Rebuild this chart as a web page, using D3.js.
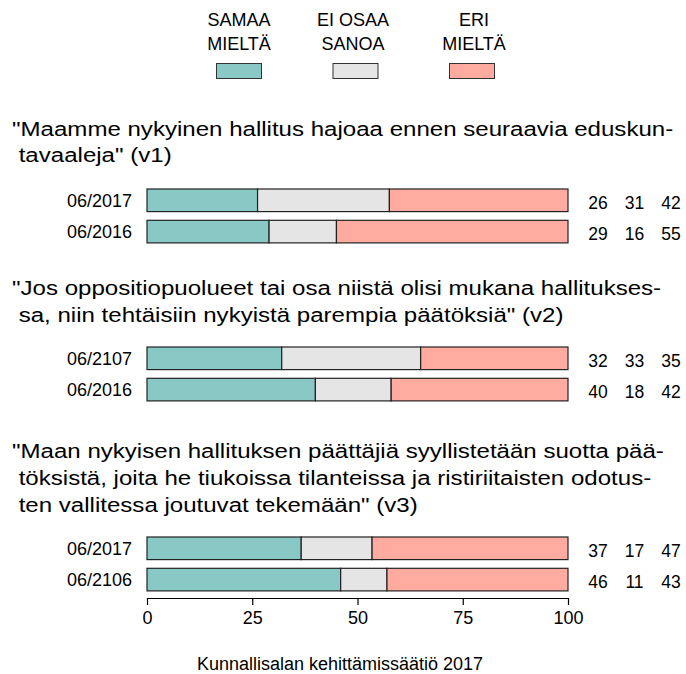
<!DOCTYPE html>
<html><head><meta charset="utf-8">
<script src="https://cdn.jsdelivr.net/npm/d3@7"></script>
<style>body{margin:0;background:#fff}text{font-family:"Liberation Sans",Arial,sans-serif;fill:#000}</style>
</head><body>
<svg id="c" width="686" height="674"></svg>
<script>
const categories = ["SAMAA MIELTÄ", "EI OSAA SANOA", "ERI MIELTÄ"];
const legendLines = [["SAMAA","MIELTÄ"],["EI OSAA","SANOA"],["ERI","MIELTÄ"]];
const colors = ["#88C9C5", "#E5E5E5", "#FFAB9F"];
const questions = [
  ["\"Maamme nykyinen hallitus hajoaa ennen seuraavia eduskun-", " tavaaleja\" (v1)"],
  ["\"Jos oppositiopuolueet tai osa niistä olisi mukana hallitukses-", " sa, niin tehtäisiin nykyistä parempia päätöksiä\" (v2)"],
  ["\"Maan nykyisen hallituksen päättäjiä syyllistetään suotta pää-", " töksistä, joita he tiukoissa tilanteissa ja ristiriitaisten odotus-", " ten vallitessa joutuvat tekemään\" (v3)"]
];
const rowLabels = [["06/2017","06/2016"],["06/2107","06/2016"],["06/2017","06/2106"]];
const values = [
  [[26,31,42],[29,16,55]],
  [[32,33,35],[40,18,42]],
  [[37,17,47],[46,11,43]]
];
const ticks = [0,25,50,75,100];
const footer = "Kunnallisalan kehittämissäätiö 2017";

const svg = d3.select("#c");
const x = d3.scaleLinear().domain([0,100]).range([147,568]);

// legend
const lx = d3.scalePoint().domain(categories).range([239,472]);
const ltx = [239, 353, 474];
categories.forEach((c,i)=>{
  const g = svg.append("g");
  legendLines[i].forEach((t,j)=>{
    g.append("text").attr("x",ltx[i]).attr("y",26+j*24).attr("text-anchor","middle").attr("font-size",18).text(t);
  });
  g.append("rect").attr("x",lx(c)-22.5).attr("y",63.5).attr("width",45).attr("height",15)
    .attr("fill",colors[i]).attr("stroke","#333").attr("stroke-width",1);
});

const titleBase = [135.5, 295, 458];
const barTop = [189, 347, 537];
const sx = 1.146;
questions.forEach((lines,q)=>{
  lines.forEach((t,j)=>{
    svg.append("text").attr("transform",`translate(12,${titleBase[q]+j*26.8}) scale(${sx},1)`)
      .attr("font-size",21).attr("xml:space","preserve").style("white-space","pre").text(t);
  });
  values[q].forEach((row,r)=>{
    const y0 = barTop[q] + r*31.3;
    const sum = d3.sum(row);
    let cum = 0;
    const segs = row.map(v=>{const s={a:cum,b:cum+v/sum*100}; cum=s.b; return s;});
    svg.append("text").attr("x",132).attr("y",y0+11.5).attr("dy","0.35em").attr("text-anchor","end").attr("font-size",18).text(rowLabels[q][r]);
    segs.forEach((s,k)=>{
      svg.append("rect").attr("x",x(s.a)).attr("y",y0).attr("width",x(s.b)-x(s.a)).attr("height",22.6)
        .attr("fill",colors[k]).attr("stroke","#222").attr("stroke-width",1.2);
    });
    row.forEach((v,k)=>{
      svg.append("text").attr("x",598+k*36.5).attr("y",y0+14).attr("dy","0.35em").attr("text-anchor","middle").attr("font-size",17.5).text(v);
    });
  });
});

// axis
const ax = svg.append("g").attr("transform","translate(0,598)")
  .call(d3.axisBottom(x).tickValues(ticks).tickSize(7).tickPadding(6).tickSizeOuter(0).tickFormat(d3.format("d")));
ax.select(".domain").attr("stroke","#000").attr("stroke-width",1.2);
ax.selectAll(".tick line").attr("stroke","#000").attr("stroke-width",1.2);
ax.selectAll(".tick text").attr("font-size",18).attr("font-family","Liberation Sans, Arial, sans-serif").attr("fill","#000");

svg.append("text").attr("x",340).attr("y",670).attr("text-anchor","middle").attr("font-size",18).text(footer);
</script>
</body></html>
